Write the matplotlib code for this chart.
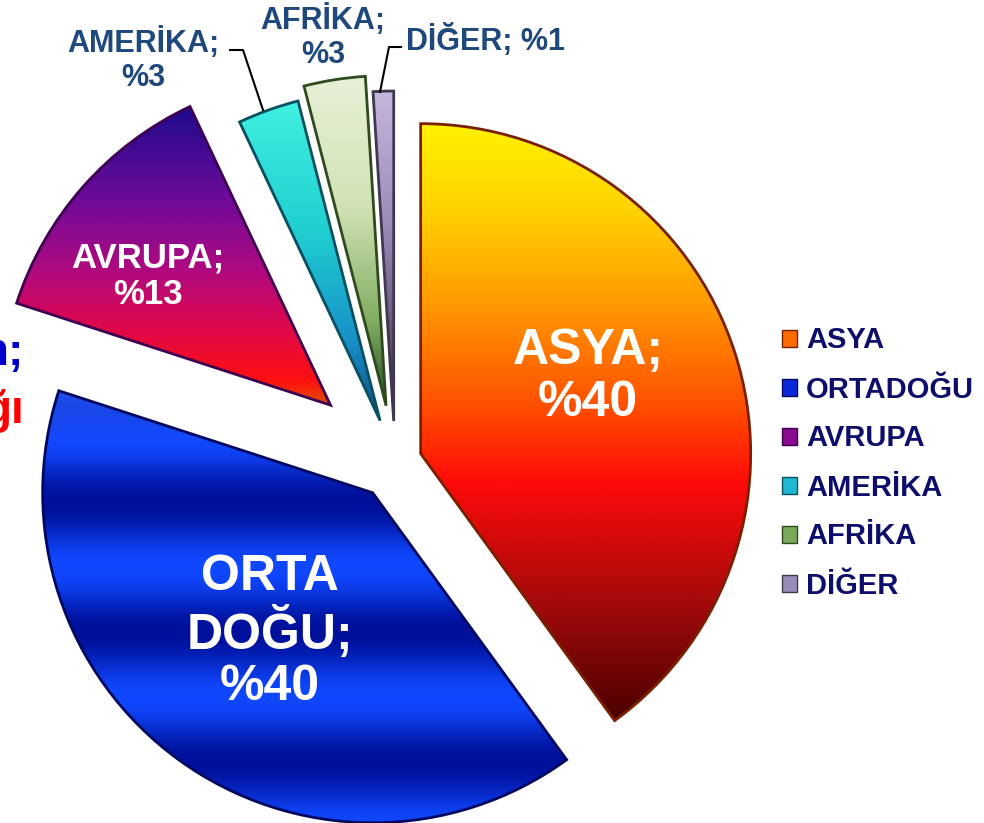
import numpy as np
import matplotlib.pyplot as plt
from matplotlib.patches import Patch
from matplotlib.colors import to_rgb

plt.rcParams['font.family'] = ['Liberation Sans', 'DejaVu Sans']
plt.rcParams['font.weight'] = 'bold'

# data
regions = ['ASYA', 'ORTADOĞU', 'AVRUPA', 'AMERİKA', 'AFRİKA', 'DİĞER']
shares = [40, 40, 13, 3, 3, 1]
slice_labels = ['ASYA;\n%40', 'ORTA\nDOĞU;\n%40', 'AVRUPA;\n%13',
                'AMERİKA;\n%3', 'AFRİKA;\n%3', 'DİĞER; %1']

W, H = 984, 823
R = 330
CX, CY = 395, H - 462
explode = [27, 38, 86, 44, 57, 41]

# colour stops, top -> bottom of each slice
grads = [
    [(0, '#FFF200'), (0.15, '#FFD000'), (0.3, '#FF9A00'), (0.47, '#FF5000'),
     (0.6, '#FF0A0A'), (0.8, '#A50A0A'), (1, '#4A0000')],
    None,
    [(0, '#1E0A8C'), (0.3, '#6A0A9A'), (0.55, '#B00A80'), (0.75, '#E0084A'),
     (0.92, '#FF1010'), (1, '#E05000')],
    [(0, '#40F0E0'), (0.4, '#20D0D0'), (0.75, '#1890C8'), (1, '#104A80')],
    [(0, '#E8F0D8'), (0.4, '#D0E2B4'), (0.75, '#80AC60'), (1, '#1E4A1E')],
    [(0, '#C4B6DC'), (0.4, '#9A8CB8'), (0.75, '#605478'), (1, '#282030')],
]
legend_colors = ['#FF6A00', '#0A28D8', '#8A0A90', '#20B8D0', '#78A858', '#9A8CB8']
edge_colors = ['#7A2000', '#000860', '#400050', '#0A5060', '#304A20', '#403850']

fig = plt.figure(figsize=(W / 100, H / 100), dpi=100)
ax = fig.add_axes([0, 0, 1, 1])

wedges, _ = ax.pie(shares, explode=explode, radius=R, center=(CX, CY),
                   startangle=90, counterclock=False,
                   wedgeprops=dict(facecolor='none', edgecolor='none'))


def wedge_bbox(w):
    t = np.radians(np.linspace(w.theta1, w.theta2, 200))
    xs = np.r_[w.center[0], w.center[0] + w.r * np.cos(t)]
    ys = np.r_[w.center[1], w.center[1] + w.r * np.sin(t)]
    return xs.min(), xs.max(), ys.min(), ys.max()


for i, w in enumerate(wedges):
    x0, x1, y0, y1 = wedge_bbox(w)
    n = 400
    yimg = np.linspace(H - y1, H - y0, n)  # image y, top -> bottom
    if grads[i] is None:
        # striped blue
        dark = np.array(to_rgb('#00109A'))
        light = np.array(to_rgb('#1048FF'))
        s = 0.5 + 0.5 * np.cos(2 * np.pi * (yimg - 567) / 130)
        col = dark[None, :] + s[:, None] * (light - dark)[None, :]
        top = np.clip((450 - yimg) / 60, 0, 1)
        col = col + top[:, None] * (np.array(to_rgb('#2050F0')) - col)
    else:
        pos = [p for p, c in grads[i]]
        rgb = np.array([to_rgb(c) for p, c in grads[i]])
        f = (yimg - yimg[0]) / (yimg[-1] - yimg[0])
        col = np.stack([np.interp(f, pos, rgb[:, k]) for k in range(3)], axis=1)
    img = np.repeat(col[:, None, :], 2, axis=1)
    im = ax.imshow(img, extent=(x0, x1, y0, y1), origin='upper',
                   aspect='auto', interpolation='bilinear', zorder=1)
    im.set_clip_path(w)
    w.set_edgecolor(edge_colors[i])
    w.set_linewidth(2.0)
    w.set_zorder(2)

# labels inside slices
ax.text(588, H - 377, slice_labels[0], color='white', fontsize=36,
        ha='center', va='center', linespacing=1.15, zorder=3)
ax.text(270, H - 632, slice_labels[1], color='white', fontsize=36,
        ha='center', va='center', linespacing=1.15, zorder=3)
ax.text(148, H - 276, slice_labels[2], color='white', fontsize=25,
        ha='center', va='center', linespacing=1.15, zorder=3)

# labels outside
lab_col = '#1F497D'
ax.text(143, H - 60, slice_labels[3], color=lab_col, fontsize=22,
        ha='center', va='center', linespacing=1.15, zorder=3)
ax.text(323, H - 37, slice_labels[4], color=lab_col, fontsize=22,
        ha='center', va='center', linespacing=1.15, zorder=3)
ax.text(406, H - 40, slice_labels[5], color=lab_col, fontsize=22,
        ha='left', va='center', zorder=3)
ax.plot([230, 243, 263], [H - 50, H - 50, H - 110], color='black', lw=1.5, zorder=3)
ax.plot([401, 389, 380], [H - 47, H - 47, H - 92], color='black', lw=1.5, zorder=3)

# title text cut off at the left edge (as in the source)
ax.text(24, H - 365, 'n;', color='#0000CC', fontsize=33, ha='right', va='baseline')
ax.text(24, H - 423, 'ğı', color='#FF0000', fontsize=33, ha='right', va='baseline')

handles = [Patch(facecolor=legend_colors[i], edgecolor=edge_colors[i], label=regions[i])
           for i in range(len(regions))]
ax.legend(handles=handles, loc='center left', bbox_to_anchor=(782 / W, 1 - 463 / H),
          frameon=False, fontsize=21, labelcolor='#0D0D6B', handlelength=0.52,
          handleheight=0.52, handletextpad=0.3, labelspacing=0.72,
          borderpad=0, borderaxespad=0)

ax.set_xlim(0, W)
ax.set_ylim(0, H)
ax.axis('off')

fig.savefig('out.png', dpi=100)
